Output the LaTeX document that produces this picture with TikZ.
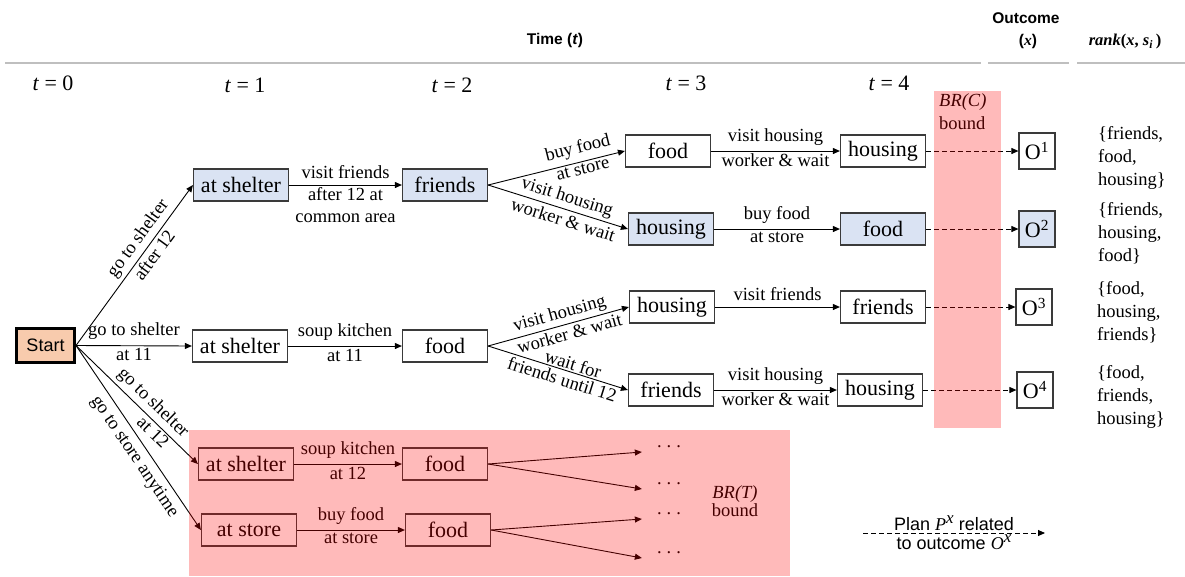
\documentclass[tikz,border=0pt]{standalone}
\usepackage{fontspec}
\setmainfont{Liberation Serif}
\setsansfont{Liberation Sans}
\usetikzlibrary{arrows.meta}

\definecolor{boxblue}{HTML}{DAE3F3}
\definecolor{startfill}{HTML}{F8CBAD}
\definecolor{rulegray}{HTML}{BFBFBF}
\definecolor{boxline}{HTML}{3A3A3A}

\newcommand{\nodesize}{\fontsize{22}{26}\selectfont}
\newcommand{\labsize}{\fontsize{18.5}{22}\selectfont}
\newcommand{\bigsup}[1]{\raisebox{7pt}{\fontsize{17}{18}\selectfont\textrm{\textit{#1}}}}

\begin{document}
\begin{tikzpicture}[x=1pt,y=-1pt,
  statebox/.style={draw=boxline, line width=1.2pt, minimum width=85pt,
    minimum height=32pt, inner sep=2pt, font=\nodesize},
  wide/.style={minimum width=95pt},
  done/.style={fill=boxblue},
  outbox/.style={draw=boxline, line width=1.2pt, minimum width=36pt,
    minimum height=36pt, inner sep=1pt, font=\nodesize},
  arr/.style={line width=0.9pt, -{Triangle[length=7pt,width=6pt]}},
  dasharr/.style={arr, dash pattern=on 5pt off 3pt},
  lab/.style={font=\labsize, inner sep=1.5pt, align=center},
  labA/.style={lab, above=4pt},
  labB/.style={lab, below=1pt},
  tlab/.style={font=\fontsize{22}{26}\selectfont},
  rankt/.style={font=\fontsize{18.5}{23}\selectfont, align=left, anchor=west, inner sep=0pt},
  dotsnode/.style={font=\labsize, inner xsep=15pt, inner ysep=0pt, text height=0pt, text depth=9pt},
  rule/.style={rulegray, line width=1.5pt},
  region/.style={fill=red, opacity=0.27},
]
\useasboundingbox (0,0) rectangle (1185,576);

% header
\node[font=\sffamily\bfseries\fontsize{15.5}{18}\selectfont] (hdtime) at (555,40) {Time (\textit{t})};
\node[font=\sffamily\bfseries\fontsize{15.5}{18}\selectfont] (hdout) at (1026,18) {Outcome};
\node[font=\fontsize{15.5}{18}\selectfont] (hdx) at (1028,41) {\textsf{\textbf{(}}\textbf{\textit{x}}\textsf{\textbf{)}}};
\node[font=\fontsize{16.5}{18}\selectfont] (hdrank) at (1125,42) {\textbf{\textit{rank}(\textit{x}, \textit{s}\textsubscript{\textit{i}}\,)}};
\draw[rule] (5,63) -- (981,63);
\draw[rule] (988,63) -- (1069,63);
\draw[rule] (1077,63) -- (1185,63);

% time steps
\node[tlab] (t0) at (53,83) {\textit{t} = 0};
\node[tlab] (t1) at (245,85) {\textit{t} = 1};
\node[tlab] (t2) at (452,85) {\textit{t} = 2};
\node[tlab] (t3) at (686,83) {\textit{t} = 3};
\node[tlab] (t4) at (889,83) {\textit{t} = 4};

% states
\node[draw=black, line width=3pt, fill=startfill, minimum width=58pt, minimum height=34pt,
  inner sep=1pt, font=\sffamily\fontsize{18}{20}\selectfont] (start) at (45.5,345.5) {Start};

\node[statebox,wide,done] (sh1) at (241,185) {at shelter};
\node[statebox,done] (fr) at (445,185) {friends};
\node[statebox] (fd3a) at (668,151) {food};
\node[statebox,done] (hs3b) at (671,229) {housing};
\node[statebox] (hs4a) at (883,151) {housing};
\node[statebox,done] (fd4b) at (883,229) {food};

\node[statebox,wide] (sh2) at (240,346) {at shelter};
\node[statebox] (fd2) at (445,346) {food};
\node[statebox] (hs3c) at (672,307) {housing};
\node[statebox] (fr4c) at (883,307) {friends};
\node[statebox] (fr3d) at (671,390) {friends};
\node[statebox] (hs4d) at (880,390) {housing};

\node[statebox,wide] (sh5) at (246,464) {at shelter};
\node[statebox] (fd5) at (445,464) {food};
\node[statebox,wide] (st6) at (249,530) {at store};
\node[statebox] (fd6) at (448,530) {food};

\node[dotsnode] (d1) at (669,452) {.\hspace{5pt}.\hspace{5pt}.};
\node[dotsnode] (d2) at (669,489) {.\hspace{5pt}.\hspace{5pt}.};
\node[dotsnode] (d3) at (669,519) {.\hspace{5pt}.\hspace{5pt}.};
\node[dotsnode] (d4) at (669,558) {.\hspace{5pt}.\hspace{5pt}.};

% outcomes
\node[outbox] (o1) at (1037,151) {O\textsuperscript{1}};
\node[outbox,done] (o2) at (1037,229) {O\textsuperscript{2}};
\node[outbox] (o3) at (1034,307) {O\textsuperscript{3}};
\node[outbox] (o4) at (1035,390) {O\textsuperscript{4}};

% rankings
\node[rankt] (r1) at (1098,158) {\{friends,\\food,\\housing\}};
\node[rankt] (r2) at (1098,233) {\{friends,\\housing,\\food\}};
\node[rankt] (r3) at (1097,312) {\{food,\\housing,\\friends\}};
\node[rankt] (r4) at (1097,397) {\{food,\\friends,\\housing\}};

% transitions from the start
\draw[arr] (start.east) -- node[lab,sloped,above=2pt,pos=0.62]{go to shelter}
  node[lab,sloped,below=1pt,pos=0.6]{after 12} (sh1.west);
\draw[arr] (start.east) -- node[labA]{go to shelter} node[labB]{at 11} (sh2.west);
\draw[arr] (start.east) -- node[lab,sloped,above=2pt,pos=0.56]{go to shelter}
  node[lab,sloped,below=0pt,pos=0.68]{at 12} (sh5.west);
\draw[arr] (start.east) -- node[lab,sloped,below=4pt,pos=0.56]{go to store anytime} (st6.west);

% upper branch
\draw[arr] (sh1) -- node[labA]{visit friends} node[labB]{after 12 at\\common area} (fr);
\draw[arr] (fr.east) -- node[lab,sloped,above=3pt,pos=0.68]{buy food}
  node[lab,sloped,below=0pt,pos=0.68]{at store} (fd3a.west);
\draw[arr] (fr.east) -- node[lab,sloped,above=1pt,pos=0.54]{visit housing}
  node[lab,sloped,below=2pt,pos=0.56]{worker \& wait} (hs3b.west);
\draw[arr] (fd3a) -- node[labA]{visit housing} node[labB]{worker \& wait} (hs4a);
\draw[arr] (hs3b) -- node[labA]{buy food} node[labB]{at store} (fd4b);

% middle branch
\draw[arr] (sh2) -- node[labA]{soup kitchen} node[labB]{at 11} (fd2);
\draw[arr] (fd2.east) -- node[lab,sloped,above=1pt,pos=0.53]{visit housing}
  node[lab,sloped,below=1pt,pos=0.56]{worker \& wait} (hs3c.west);
\draw[arr] (fd2.east) -- node[lab,sloped,above=0pt,pos=0.59]{wait for}
  node[lab,sloped,below=1pt,pos=0.55]{friends until 12} (fr3d.west);
\draw[arr] (hs3c) -- node[labA]{visit friends} (fr4c);
\draw[arr] (fr3d) -- node[labA]{visit housing} node[labB]{worker \& wait} (hs4d);

% plans tied to outcomes
\draw[dasharr] (hs4a) -- (o1);
\draw[dasharr] (fd4b) -- (o2);
\draw[dasharr] (fr4c) -- (o3);
\draw[dasharr] (hs4d) -- (o4);

% lower branch, cut off by the time bound
\draw[arr] (sh5) -- node[labA]{soup kitchen} node[labB]{at 12} (fd5);
\draw[arr] (st6) -- node[labA]{buy food} node[labB]{at store} (fd6);
\draw[arr] (fd5.east) -- (d1.west);
\draw[arr] (fd5.east) -- (d2.west);
\draw[arr] (fd6.east) -- (d3.west);
\draw[arr] (fd6.east) -- (d4.west);

% bound labels
\node[font=\fontsize{18.5}{23}\selectfont, align=left, anchor=north west, inner sep=0pt]
  (brc) at (939,93) {\textit{BR(C)}\\bound};
\node[font=\fontsize{18.5}{18.5}\selectfont, align=center] (brt) at (735,501) {\textit{BR(T)}\\bound};

% legend
\coordinate (lgA) at (863,533);
\coordinate (lgB) at (1045,533);
\draw[dasharr] (lgA) -- node[font=\sffamily\fontsize{18}{20}\selectfont, above, inner sep=2pt]
  {Plan \textrm{\textit{P}}\bigsup{x} related}
  node[font=\sffamily\fontsize{18}{20}\selectfont, below, inner sep=1pt]
  {to outcome \textrm{\textit{O}}\bigsup{x}} (lgB);

% bound regions, tinting what lies beneath
\fill[region] (189,430) rectangle (790,576);
\fill[region] (934,91) rectangle (1001,428);
\end{tikzpicture}
\end{document}
